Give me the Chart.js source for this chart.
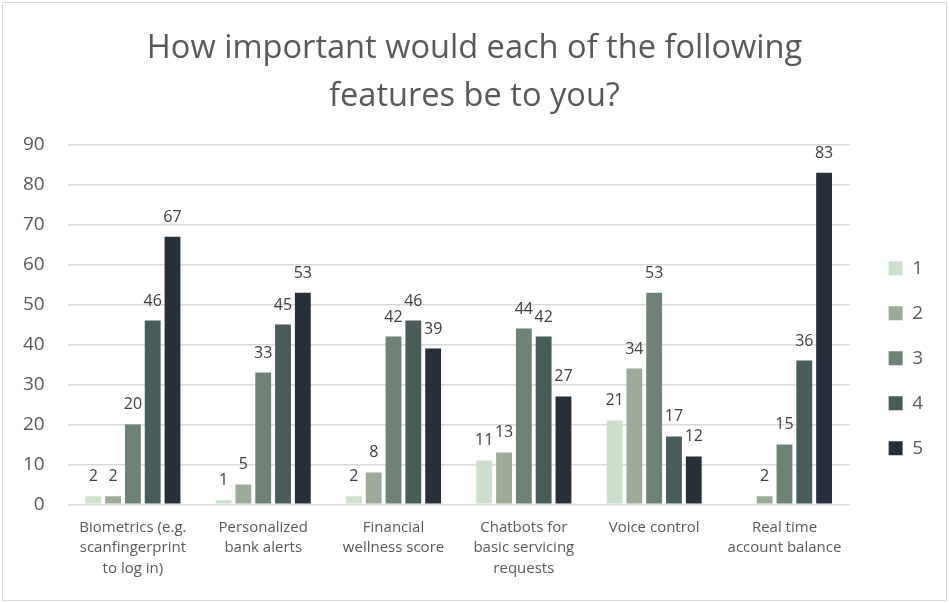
<!DOCTYPE html>
<html>
<head>
<meta charset="utf-8">
<script src="https://cdn.jsdelivr.net/npm/chart.js@4/dist/chart.umd.min.js"></script>
<style>
  html, body { margin: 0; padding: 0; background: #ffffff; }
  #wrap { width: 949px; height: 603px; position: relative; }
</style>
</head>
<body>
<div id="wrap"><canvas id="chart" width="949" height="603"></canvas></div>
<script>
// Survey features (x-axis categories, multi-line labels)
const categories = [
  ["Biometrics (e.g.", "scanfingerprint", "to log in)"],
  ["Personalized", "bank alerts"],
  ["Financial", "wellness score"],
  ["Chatbots for", "basic servicing", "requests"],
  ["Voice control"],
  ["Real time", "account balance"]
];

// Importance rating 1..5, counts per feature
const rating1 = [2, 1, 2, 11, 21, null];
const rating2 = [2, 5, 8, 13, 34, 2];
const rating3 = [20, 33, 42, 44, 53, 15];
const rating4 = [46, 45, 46, 42, 17, 36];
const rating5 = [67, 53, 39, 27, 12, 83];

const seriesNames = ["1", "2", "3", "4", "5"];
const seriesColors = ["#cde0cc", "#9bab98", "#6e8276", "#485c5a", "#27303a"];
const yTicks = [0, 10, 20, 30, 40, 50, 60, 70, 80, 90];

const titleText = ["How important would each of the following", "features be to you?"];
const FONT = "'Open Sans', 'Noto Sans', sans-serif";
const TEXT = "#595959";

// Value labels above each bar
const valueLabels = {
  id: "valueLabels",
  afterDatasetsDraw(chart) {
    const ctx = chart.ctx;
    ctx.save();
    ctx.font = "16px " + FONT;
    ctx.fillStyle = "#404040";
    ctx.textAlign = "center";
    ctx.textBaseline = "alphabetic";
    chart.data.datasets.forEach((ds, i) => {
      const meta = chart.getDatasetMeta(i);
      meta.data.forEach((bar, j) => {
        const v = ds.data[j];
        if (v === null || v === undefined) return;
        ctx.fillText(String(v), bar.x, bar.y - 15);
      });
    });
    ctx.restore();
  }
};

// Thin outer frame around the whole chart
const frame = {
  id: "frame",
  beforeDraw(chart) {
    const ctx = chart.ctx;
    ctx.save();
    ctx.fillStyle = "#ffffff";
    ctx.fillRect(0, 0, chart.width, chart.height);
    ctx.strokeStyle = "#d9d9d9";
    ctx.lineWidth = 1;
    ctx.strokeRect(2.5, 2.5, chart.width - 5, chart.height - 5);
    ctx.restore();
  }
};

// Extra empty room to the right of the legend, so the title stays centred on the canvas
const legendRoom = {
  id: "legendRoom",
  beforeLayout(chart) {
    const lg = chart.legend;
    if (lg && !lg.__roomy) {
      const fit = lg.fit;
      lg.fit = function () { fit.call(this); this.width += 16; };
      lg.__roomy = true;
    }
  }
};

const datasets = [rating1, rating2, rating3, rating4, rating5].map((d, i) => ({
  label: seriesNames[i],
  data: d,
  backgroundColor: seriesColors[i],
  borderWidth: 0,
  categoryPercentage: 0.76,
  barPercentage: 0.8
}));

new Chart(document.getElementById("chart"), {
  type: "bar",
  data: { labels: categories, datasets },
  options: {
    responsive: false,
    animation: false,
    layout: { padding: { left: 0, right: 0, top: 14, bottom: 19 } },
    plugins: {
      title: {
        display: true,
        text: titleText,
        color: TEXT,
        font: { family: FONT, size: 32.6, weight: "normal", lineHeight: 1.47 },
        padding: { top: 11, bottom: 24 }
      },
      legend: {
        position: "right",
        align: "center",
        title: { display: true, text: " ", padding: { top: 64, bottom: 40 } },
        labels: {
          color: TEXT,
          font: { family: FONT, size: 19 },
          boxWidth: 14,
          boxHeight: 14,
          padding: 26
        }
      },
      tooltip: { enabled: false }
    },
    scales: {
      x: {
        grid: { display: false },
        border: { display: false },
        ticks: {
          color: TEXT,
          font: { family: FONT, size: 15, lineHeight: 1.37 },
          maxRotation: 0,
          autoSkip: false,
          padding: 5
        }
      },
      y: {
        min: 0,
        max: 90,
        afterBuildTicks(axis) { axis.ticks = yTicks.map(v => ({ value: v })); },
        grid: { color: "#d9d9d9", lineWidth: 1.5, drawTicks: false },
        border: { display: false },
        ticks: {
          color: TEXT,
          font: { family: FONT, size: 19 },
          padding: 23
        }
      },
      // empty spacer between plot area and legend
      gap: {
        position: "right",
        grid: { display: false },
        border: { display: false },
        ticks: { display: false },
        afterFit(scale) { scale.width = 13; }
      }
    }
  },
  plugins: [frame, legendRoom, valueLabels]
});
</script>
</body>
</html>
